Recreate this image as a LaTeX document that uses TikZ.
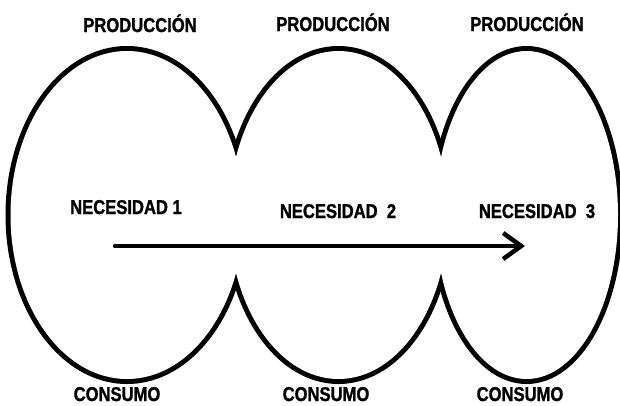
\documentclass[tikz,border=0pt]{standalone}
\usepackage{fontspec}
\newfontfamily\diagfont[FakeStretch=0.83, BoldFeatures={FakeBold=1.2}]{Liberation Sans}
\usetikzlibrary{arrows.meta}

\begin{document}
\begin{tikzpicture}[x=1pt,y=-1pt,
	etiqueta/.style={font=\diagfont\bfseries\fontsize{20}{24}\selectfont,
		inner sep=0pt, text height=14pt, text depth=0pt},
	bucle/.style={line width=10pt},
	flecha/.style={line width=4.5pt, line cap=round,
		-{Straight Barb[length=18pt,width=26pt]}}]
	\useasboundingbox (0,0) rectangle (620,405);
	% contorno: trazo doble y relleno blanco encima
	\foreach \cx/\rx in {127/116.5, 338.5/109.5, 526.6/91.4}
		\draw[bucle] (\cx,215) ellipse [x radius=\rx, y radius=164];
	\foreach \cx/\rx in {127/116.5, 338.5/109.5, 526.6/91.4}
		\fill[white] (\cx,215) ellipse [x radius=\rx, y radius=164];
		\node[etiqueta] (prod1) at (140,25) {PRODUCCIÓN};
		\node[etiqueta] (prod2) at (333,24) {PRODUCCIÓN};
		\node[etiqueta] (prod3) at (527,24) {PRODUCCIÓN};
		\node[etiqueta] (nec1) at (126,207) {NECESIDAD 1};
		\node[etiqueta] (nec2) at (338,211) {NECESIDAD\ \ 2};
		\node[etiqueta] (nec3) at (537,211) {NECESIDAD\ \ 3};
		\node[etiqueta] (cons1) at (117,394) {CONSUMO};
		\node[etiqueta] (cons2) at (326,394) {CONSUMO};
		\node[etiqueta] (cons3) at (520,394) {CONSUMO};
		\coordinate (inicio) at (115,246);
		\coordinate (fin) at (525,246);
		\draw[flecha] (inicio) -- (fin);
\end{tikzpicture}
\end{document}
